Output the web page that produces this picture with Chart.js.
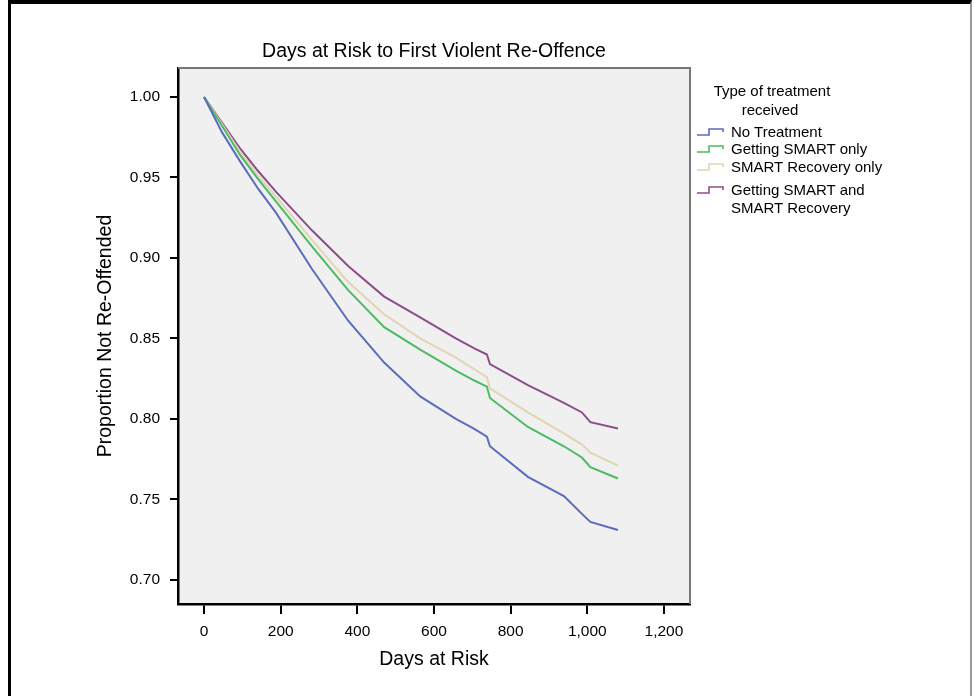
<!DOCTYPE html>
<html lang="en">
<head>
  <meta charset="UTF-8">
  <title>Days at Risk to First Violent Re-Offence</title>
  <script src="https://cdn.jsdelivr.net/npm/chart.js"></script>
  <style>
    body {
      margin: 0;
      background: #fff;
      font-family: "Liberation Sans", Arial, sans-serif;
    }
    .wrap {
      position: relative;
      width: 974px;
      height: 696px;
      overflow: hidden;
    }
    .frame {
      position: absolute;
      left: 8px;
      top: 0;
      width: 959px;
      height: 720px;
      border-top: 4px solid #000;
      border-left: 3px solid #000;
      border-right: 2px solid #999;
      pointer-events: none;
    }
    canvas { position: absolute; left: 0; top: 0; }
    .legend div {
      position: absolute;
      font-size: 15px;
      line-height: 18px;
      color: #000;
      white-space: nowrap;
    }
    .legend .ttl {
      width: 160px;
      text-align: center;
    }
    .legend svg { position: absolute; }
  </style>
</head>
<body>
  <div class="wrap">
    <canvas id="kmChart" width="974" height="696"></canvas>
    <div class="frame"></div>
    <div class="legend" id="legend">
      <div class="ttl" style="left:692px; top:82px;">Type of treatment</div>
      <div class="ttl" style="left:690px; top:101px;">received</div>
    </div>
  </div>

  <script>
    // days at risk (x) for the sampled points of the survival curves
    const days = [0, 47, 94, 141, 188, 282, 376, 470, 564, 657, 704, 738, 746, 845, 939, 986, 1008, 1080];

    const noTreatment   = [1.000, 0.978, 0.960, 0.943, 0.928, 0.893, 0.861, 0.835, 0.814, 0.800, 0.794, 0.789, 0.783, 0.764, 0.752, 0.741, 0.736, 0.731];
    const smartOnly     = [1.000, 0.982, 0.964, 0.949, 0.935, 0.907, 0.880, 0.857, 0.843, 0.830, 0.824, 0.820, 0.813, 0.795, 0.783, 0.776, 0.770, 0.763];
    const recoveryOnly  = [1.000, 0.983, 0.966, 0.951, 0.938, 0.911, 0.885, 0.865, 0.850, 0.838, 0.831, 0.826, 0.819, 0.804, 0.791, 0.784, 0.779, 0.771];
    const smartAndRecov = [1.000, 0.984, 0.968, 0.954, 0.941, 0.917, 0.895, 0.876, 0.863, 0.850, 0.844, 0.840, 0.834, 0.821, 0.810, 0.804, 0.798, 0.794];

    const seriesNames  = ['No Treatment', 'Getting SMART only', 'SMART Recovery only', 'Getting SMART and\nSMART Recovery'];
    const seriesValues = [noTreatment, smartOnly, recoveryOnly, smartAndRecov];
    const seriesColors = ['#5b6cbc', '#4dbb62', '#e2d5b3', '#8d4d8c'];

    const yTicks = { min: 0.685, max: 1.018, step: 0.05 };
    const xTicks = { min: -68, max: 1268, step: 200 };

    const FONT = '"Liberation Sans", Arial, sans-serif';

    // grey plot region and the lighter top/right edges of the box
    const plotBox = {
      id: 'plotBox',
      beforeDraw(chart) {
        const { ctx, chartArea: a } = chart;
        ctx.save();
        ctx.fillStyle = '#f0f0f0';
        ctx.fillRect(a.left, a.top, a.right - a.left, a.bottom - a.top);
        ctx.restore();
      },
      afterDraw(chart) {
        const { ctx, chartArea: a } = chart;
        ctx.save();
        ctx.strokeStyle = '#777';
        ctx.lineWidth = 2;
        ctx.beginPath();
        ctx.moveTo(a.left, a.top);
        ctx.lineTo(a.right, a.top);
        ctx.lineTo(a.right, a.bottom);
        ctx.stroke();
        ctx.restore();
      }
    };

    const datasets = seriesValues.map((vals, i) => ({
      label: seriesNames[i],
      data: days.map((d, j) => ({ x: d, y: vals[j] })),
      borderColor: seriesColors[i],
      borderWidth: 2,
      pointRadius: 0,
      tension: 0,
      fill: false
    }));

    new Chart(document.getElementById('kmChart'), {
      type: 'line',
      data: { datasets },
      plugins: [plotBox],
      options: {
        responsive: false,
        animation: false,
        layout: { padding: { left: 0, right: 284, top: 0, bottom: 0 } },
        plugins: {
          legend: { display: false },
          tooltip: { enabled: false },
          title: {
            display: true,
            text: 'Days at Risk to First Violent Re-Offence',
            fullSize: false,
            color: '#000',
            font: { family: FONT, size: 19.5, weight: 'normal' },
            padding: { top: 40.3, bottom: 4.3 }
          }
        },
        scales: {
          x: {
            type: 'linear',
            min: xTicks.min,
            max: xTicks.max,
            afterFit(scale) { scale.height = 92; },
            border: { display: true, color: '#000', width: 2.5 },
            grid: { drawOnChartArea: false, color: '#000', lineWidth: 2, tickLength: 10 },
            ticks: {
              stepSize: xTicks.step,
              includeBounds: false,
              padding: 8,
              color: '#000',
              font: { family: FONT, size: 15.5 },
              callback: v => v.toLocaleString('en-US')
            },
            title: {
              display: true,
              text: 'Days at Risk',
              color: '#000',
              font: { family: FONT, size: 19.5 },
              padding: { top: 0, bottom: 24.3 }
            }
          },
          y: {
            min: yTicks.min,
            max: yTicks.max,
            afterFit(scale) { scale.width = 178; },
            border: { display: true, color: '#000', width: 2.5 },
            grid: { drawOnChartArea: false, color: '#000', lineWidth: 2, tickLength: 8 },
            ticks: {
              stepSize: yTicks.step,
              includeBounds: false,
              padding: 10,
              color: '#000',
              font: { family: FONT, size: 15.5 },
              callback: v => v.toFixed(2)
            },
            title: {
              display: true,
              text: 'Proportion Not Re-Offended',
              color: '#000',
              font: { family: FONT, size: 19.5 },
              padding: { top: 94.3, bottom: 0 }
            }
          }
        }
      }
    });

    // legend built from the same series names and colours
    const legend = document.getElementById('legend');
    const entryTops = [123, 140, 158, 181];
    seriesNames.forEach((name, i) => {
      const top = entryTops[i];
      const icon = document.createElementNS('http://www.w3.org/2000/svg', 'svg');
      icon.setAttribute('width', '30');
      icon.setAttribute('height', '10');
      icon.style.left = '697px';
      icon.style.top = (top + 4) + 'px';
      icon.innerHTML = '<path d="M0 8 H12 V2 H26 V5" fill="none" stroke="' + seriesColors[i] + '" stroke-width="1.6"/>';
      legend.appendChild(icon);
      name.split('\n').forEach((line, k) => {
        const t = document.createElement('div');
        t.textContent = line;
        t.style.left = '731px';
        t.style.top = (top + k * 18) + 'px';
        legend.appendChild(t);
      });
    });
  </script>
</body>
</html>
